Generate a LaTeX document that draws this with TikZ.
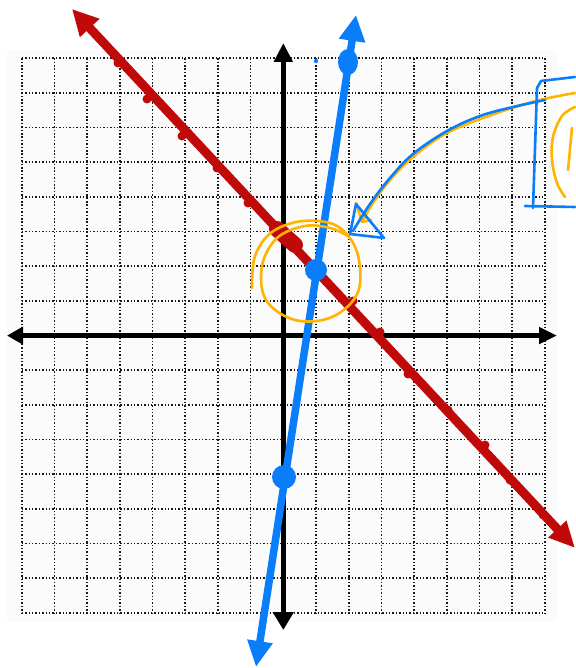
\documentclass[tikz,border=0pt]{standalone}
\usetikzlibrary{arrows.meta}
\definecolor{redink}{RGB}{192,10,10}
\definecolor{blueink}{RGB}{10,125,250}
\definecolor{orangeink}{RGB}{255,180,0}
\begin{document}
\begin{tikzpicture}[x=1pt,y=-1pt,
  gridline/.style={black!90, line width=1.7pt, dash pattern=on 1.5pt off 1.9pt},
  axisline/.style={line width=5.5pt, black},
  redpen/.style={line width=9pt, redink},
  bluepen/.style={line width=7.5pt, blueink},
  orangepen/.style={line width=2.6pt, orangeink, line cap=round, line join=round},
  bluethin/.style={line width=2.6pt, blueink, line cap=round, line join=round},
  reddot/.style={fill=redink},
  bluedot/.style={fill=blueink}
]
\useasboundingbox (0,0) rectangle (575,668);
% paper background of the grid
\fill[black!1.5] (7,50) rectangle (557,622);
% dotted grid
\foreach \i in {0,...,16} \draw[gridline] ({21.7+32.7*\i},58.3) -- ({21.7+32.7*\i},612.7);
\foreach \j in {0,...,16} \draw[gridline] (21.7,{58.3+34.65*\j}) -- (544.9,{58.3+34.65*\j});
% axes
\coordinate (xl) at (7,335.6);
\coordinate (xr) at (557,335.6);
\coordinate (yt) at (283.3,43);
\coordinate (yb) at (283.3,630);
\draw[axisline, {Triangle[length=16pt,width=17pt]}-{Triangle[length=18pt,width=16pt]}] (xl) -- (xr);
\draw[axisline, {Triangle[length=19pt,width=18pt]}-{Triangle[length=18pt,width=20pt]}] (yt) -- (yb);
% red line
\coordinate (rtop) at (72,9);
\coordinate (rbot) at (575,548);
\draw[redpen, {Triangle[length=26pt,width=25pt]}-{Triangle[length=26pt,width=23pt]}] (rtop) -- (rbot);
\foreach \p in {(118,63),(147,99),(182,136),(217,168),(248,203),(353,301),(380,332),(408,374),(448,410),(485,445),(510,480),(543,515)}
  \fill[reddot] \p circle (4.5);
\draw[redink, line width=16pt, line cap=round] (277,229) -- (295,245);
% blue line
\coordinate (btop) at (356,15);
\coordinate (bbot) at (256,667);
\draw[bluepen, {Triangle[length=26pt,width=25pt]}-{Triangle[length=26pt,width=24pt]}] (btop) -- (bbot);
\fill[bluedot] (348,62) ellipse [x radius=10, y radius=13];
\fill[bluedot] (316,270) circle (11);
\fill[bluedot] (284,477) circle (12);
\fill[bluedot] (316,61) circle (2.2);
% orange circle around the intersection
\draw[orangepen] plot[smooth, tension=0.6] coordinates {(252,288) (255,256) (272,232) (303,221) (337,226) (357,252) (358,292) (332,317) (295,320) (266,300) (262,266) (277,238) (305,226) (330,228) (348,236)};
% annotation arrows
\draw[orangepen] plot[smooth, tension=0.6] coordinates {(575,93) (540,100) (497,113) (447,133) (413,157) (390,180) (373,203) (362,222)};
\draw[orangepen] (356,203) -- (362,222) -- (371,220);
\draw[bluethin] plot[smooth, tension=0.6] coordinates {(545,100) (513,107) (480,116) (447,131) (413,154) (390,178) (370,204) (353,231)};
\draw[bluethin] (356,204) -- (350,234) -- (384,238) -- cycle;
% bracket and handwritten "(1"
\draw[bluethin] (575,77) -- (541,81) -- (537,88) -- (533,208);
\draw[bluethin] (525,206) -- (575,207);
\draw[orangepen] plot[smooth, tension=0.6] coordinates {(575,107) (562,116) (553,137) (552,160) (557,183) (565,197)};
\draw[orangepen] (572,128) -- (568,170);
\end{tikzpicture}
\end{document}
